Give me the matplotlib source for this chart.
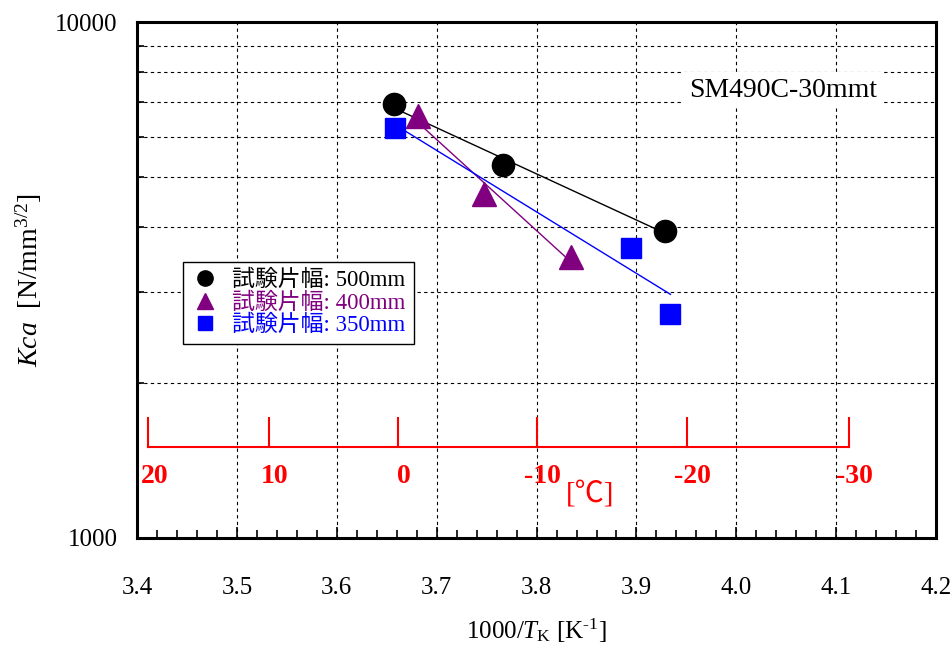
import numpy as np
import matplotlib
matplotlib.use("Agg")
import matplotlib.pyplot as plt
from matplotlib.lines import Line2D
from matplotlib.ticker import FixedLocator, NullFormatter, MultipleLocator
import matplotlib.transforms as mtransforms

plt.rcParams['font.family'] = ['Liberation Serif', 'Noto Sans CJK JP', 'DejaVu Sans']
plt.rcParams['mathtext.fontset'] = 'custom'
plt.rcParams['mathtext.rm'] = 'Liberation Serif'
plt.rcParams['mathtext.it'] = 'Liberation Serif:italic'

# Arrest toughness Kca vs inverse temperature, three specimen widths
x_500 = [3.657, 3.766, 3.929]
kca_500 = [6940, 5290, 3940]
x_400 = [3.681, 3.747, 3.834]
kca_400 = [6580, 4650, 3510]
x_350 = [3.658, 3.895, 3.934]
kca_350 = [6240, 3655, 2720]

series_labels = ['試験片幅: 500mm', '試験片幅: 400mm', '試験片幅: 350mm']
series_colors = ['black', '#800080', '#0000FF']
series_markers = ['o', '^', 's']

temp_ticks_c = [20, 10, 0, -10, -20, -30]
x_ticks = [3.4, 3.5, 3.6, 3.7, 3.8, 3.9, 4.0, 4.1, 4.2]
y_minor = [2000, 3000, 4000, 5000, 6000, 7000, 8000, 9000]

fig = plt.figure(figsize=(9.53, 6.51), dpi=100)
ax = fig.add_axes([0.1438, 0.1736, 0.8385, 0.7924])
ax.set_yscale('log')
ax.set_xlim(3.4, 4.2)
ax.set_ylim(1000, 10000)

series = [(x_500, kca_500, 16), (x_400, kca_400, 17), (x_350, kca_350, 14.5)]
for (xs, ys, ms), col, mk in zip(series, series_colors, series_markers):
    xs = np.array(xs)
    ys = np.array(ys)
    # least-squares fit of log10(Kca) against 1000/T
    slope, icpt = np.polyfit(xs, np.log10(ys), 1)
    xf = np.array([xs.min(), xs.max()])
    ax.plot(xf, 10 ** (icpt + slope * xf), color=col, lw=1.0, zorder=3)
    ax.plot(xs, ys, linestyle='none', marker=mk, color=col, ms=ms, zorder=4)

# grid and ticks
ax.set_xticks(x_ticks)
ax.set_xticklabels([f"{v:.1f}" for v in x_ticks])
ax.xaxis.set_minor_locator(MultipleLocator(0.02))
ax.set_yticks([1000, 10000])
ax.set_yticklabels(['1000', '10000'])
ax.yaxis.set_minor_locator(FixedLocator(y_minor))
ax.yaxis.set_minor_formatter(NullFormatter())
for xv in x_ticks[1:-1]:
    ax.axvline(xv, color='black', lw=0.8, ls=(0, (3, 3)), zorder=1)
for yv in y_minor:
    ax.axhline(yv, color='black', lw=0.8, ls=(0, (3, 3)), zorder=1)

ax.tick_params(axis='x', which='major', direction='in', length=8, width=1.2,
               labelsize=18, pad=28, top=False)
ax.tick_params(axis='x', which='minor', direction='in', length=6, width=1.2, top=False)
ax.tick_params(axis='y', which='major', direction='in', length=0, labelsize=18, pad=14,
               right=False)
ax.tick_params(axis='y', which='minor', direction='in', length=5, width=1.2, right=False)
for sp in ax.spines.values():
    sp.set_linewidth(2.2)

ax.set_xlabel('1000/$T_{\\mathrm{K}}$ [K$^{\\text{-}1}$]', fontsize=18, labelpad=13)
ax.set_ylabel('$Kca$  [N/mm$^{3/2}$]', fontsize=20, labelpad=8)

# temperature scale in degrees Celsius
trans = mtransforms.blended_transform_factory(ax.transData, ax.transAxes)
tx = [1000.0 / (t + 273.15) for t in temp_ticks_c]
ax.plot([tx[0], tx[-1]], [0.176, 0.176], color='red', lw=1.5, transform=trans,
        clip_on=False, zorder=2)
for t, xv in zip(temp_ticks_c, tx):
    ax.plot([xv, xv], [0.176, 0.2326], color='red', lw=1.5, transform=trans,
            clip_on=False, zorder=2)
    ax.text(xv + 0.006, 0.12, f"{t}", color='red', fontsize=20, fontweight='bold',
            ha='center', va='center', transform=trans, zorder=5)
ax.text(0.567, 0.083, '[℃]', color='red', fontsize=21, ha='center', va='center',
        transform=ax.transAxes, zorder=5)

ax.text(0.8085, 0.868, 'SM490C-30mmt', fontsize=20, ha='center', va='center',
        transform=ax.transAxes, zorder=5,
        bbox=dict(facecolor='white', edgecolor='none', pad=4))

handles = [Line2D([], [], linestyle='none', marker=mk, color=c, ms=ms)
           for mk, c, ms in zip(series_markers, series_colors, [11, 12, 10])]
leg = ax.legend(handles, series_labels, loc='upper left', bbox_to_anchor=(0.0576, 0.535),
                borderaxespad=0, fontsize=16.5, frameon=True, fancybox=False,
                framealpha=1, edgecolor='black', handlelength=1.2, handletextpad=0.6,
                labelspacing=0.05, borderpad=0.35)
leg.get_frame().set_linewidth(1.0)
leg.set_zorder(6)
for txt, c in zip(leg.get_texts(), series_colors):
    txt.set_color(c)

fig.savefig('out.png', dpi=100)
